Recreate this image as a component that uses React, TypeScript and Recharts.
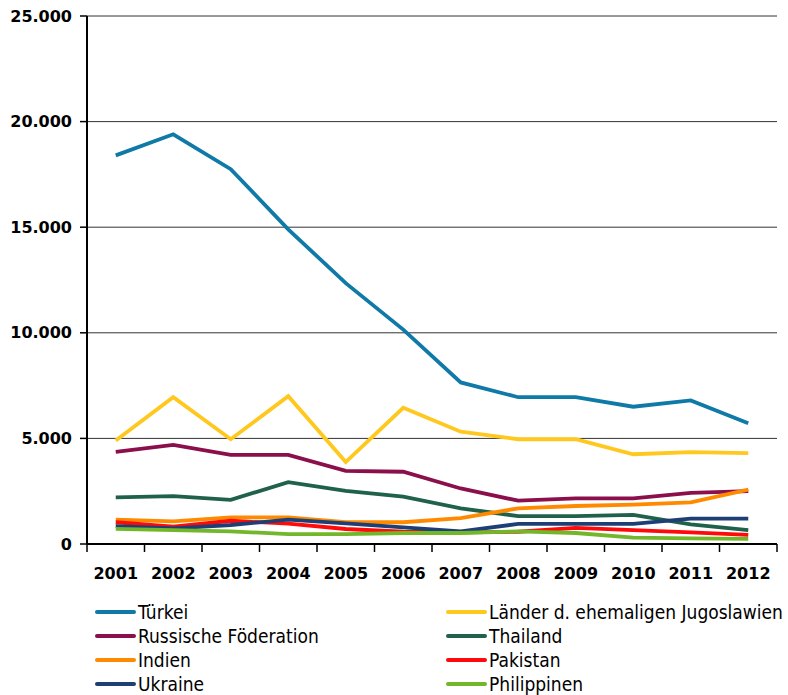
import { LineChart, Line, XAxis, YAxis, CartesianGrid } from 'recharts';

const years = ['2001', '2002', '2003', '2004', '2005', '2006', '2007', '2008', '2009', '2010', '2011', '2012'];

const tuerkei = [18400, 19400, 17750, 14900, 12350, 10150, 7650, 6950, 6950, 6500, 6800, 5720];
const jugoslawien = [4900, 6950, 4960, 7000, 3880, 6450, 5320, 4960, 4960, 4250, 4350, 4300];
const russland = [4360, 4690, 4220, 4220, 3460, 3420, 2630, 2050, 2160, 2160, 2420, 2500];
const thailand = [2210, 2270, 2090, 2930, 2520, 2240, 1690, 1320, 1320, 1380, 930, 660];
const indien = [1150, 1070, 1260, 1260, 1030, 1030, 1230, 1690, 1800, 1860, 1970, 2570];
const pakistan = [1030, 820, 1100, 960, 710, 580, 550, 580, 760, 660, 550, 430];
const ukraine = [850, 740, 900, 1150, 980, 790, 600, 950, 950, 950, 1200, 1200];
const philippinen = [720, 660, 600, 470, 470, 520, 520, 600, 520, 300, 270, 240];

const yTicks = [0, 5000, 10000, 15000, 20000, 25000];

// legend order is row-major over two columns
const series = [
  { key: 'tuerkei', name: 'Türkei', color: '#0f7aa7', values: tuerkei },
  { key: 'jugoslawien', name: 'Länder d. ehemaligen Jugoslawien', color: '#ffc81e', values: jugoslawien },
  { key: 'russland', name: 'Russische Föderation', color: '#8a0f4b', values: russland },
  { key: 'thailand', name: 'Thailand', color: '#1f614a', values: thailand },
  { key: 'indien', name: 'Indien', color: '#ff8a00', values: indien },
  { key: 'pakistan', name: 'Pakistan', color: '#ff0a0a', values: pakistan },
  { key: 'ukraine', name: 'Ukraine', color: '#1e3f76', values: ukraine },
  { key: 'philippinen', name: 'Philippinen', color: '#72b72a', values: philippinen },
];

// x is the category index, points sit in the middle of each slot
const data = years.map((year, i) => {
  const row: Record<string, string | number> = { year, pos: i + 0.5 };
  series.forEach((s) => {
    row[s.key] = s.values[i];
  });
  return row;
});

// tick marks sit on the category boundaries
const boundaries = [0, ...years.map((_, i) => i + 1)];

const fmt = (v: number) => String(v).replace(/\B(?=(\d{3})+(?!\d))/g, '.');

const axisFont = { fill: '#000', fontSize: 16, fontWeight: 700, fontFamily: 'DejaVu Sans, sans-serif' };

// plot is 690px wide, half a category on each side
const halfBand = 690 / years.length / 2;

const YearTick = (props: any) => {
  const { x, y, payload } = props;
  const label = years[payload.value];
  if (!label) return null;
  return (
    <text x={x + halfBand} y={y} dy={25} textAnchor="middle" {...axisFont}>
      {label}
    </text>
  );
};

export default function App() {
  return (
    <div style={{ position: 'absolute', left: 0, top: 0, width: 788, height: 695, background: '#fff' }}>
      <LineChart width={788} height={590} data={data} margin={{ top: 16, right: 11, left: 0, bottom: 8 }}>
        <CartesianGrid vertical={false} stroke="#333" strokeWidth={1} />
        <XAxis
          type="number"
          dataKey="pos"
          domain={[0, 12]}
          ticks={boundaries}
          interval={0}
          allowDataOverflow
          tick={<YearTick />}
          tickSize={8}
          tickMargin={2}
          height={38}
          axisLine={{ stroke: '#000', strokeWidth: 2 }}
          tickLine={{ stroke: '#000', strokeWidth: 1.5 }}
        />
        <YAxis
          width={87}
          domain={[0, 25000]}
          ticks={yTicks}
          tickFormatter={fmt}
          tickSize={7}
          tickMargin={8}
          axisLine={{ stroke: '#000', strokeWidth: 2 }}
          tickLine={{ stroke: '#000', strokeWidth: 1.5 }}
          tick={axisFont}
        />
        {series.map((s) => (
          <Line
            key={s.key}
            dataKey={s.key}
            name={s.name}
            stroke={s.color}
            strokeWidth={3.8}
            dot={false}
            type="linear"
            isAnimationActive={false}
          />
        ))}
      </LineChart>
      <div
        style={{
          position: 'absolute',
          left: 95,
          top: 600,
          display: 'grid',
          gridTemplateColumns: '351px 340px',
          gridAutoRows: '24px',
          fontFamily: '"DejaVu Sans Condensed", "Liberation Sans Narrow", sans-serif',
          fontSize: 19,
          color: '#000',
        }}
      >
        {series.map((s) => (
          <div key={s.key} style={{ display: 'flex', alignItems: 'center', whiteSpace: 'nowrap' }}>
            <span style={{ display: 'inline-block', width: 41, height: 4, borderRadius: 2, background: s.color, marginRight: 2 }} />
            <span>{s.name}</span>
          </div>
        ))}
      </div>
    </div>
  );
}
